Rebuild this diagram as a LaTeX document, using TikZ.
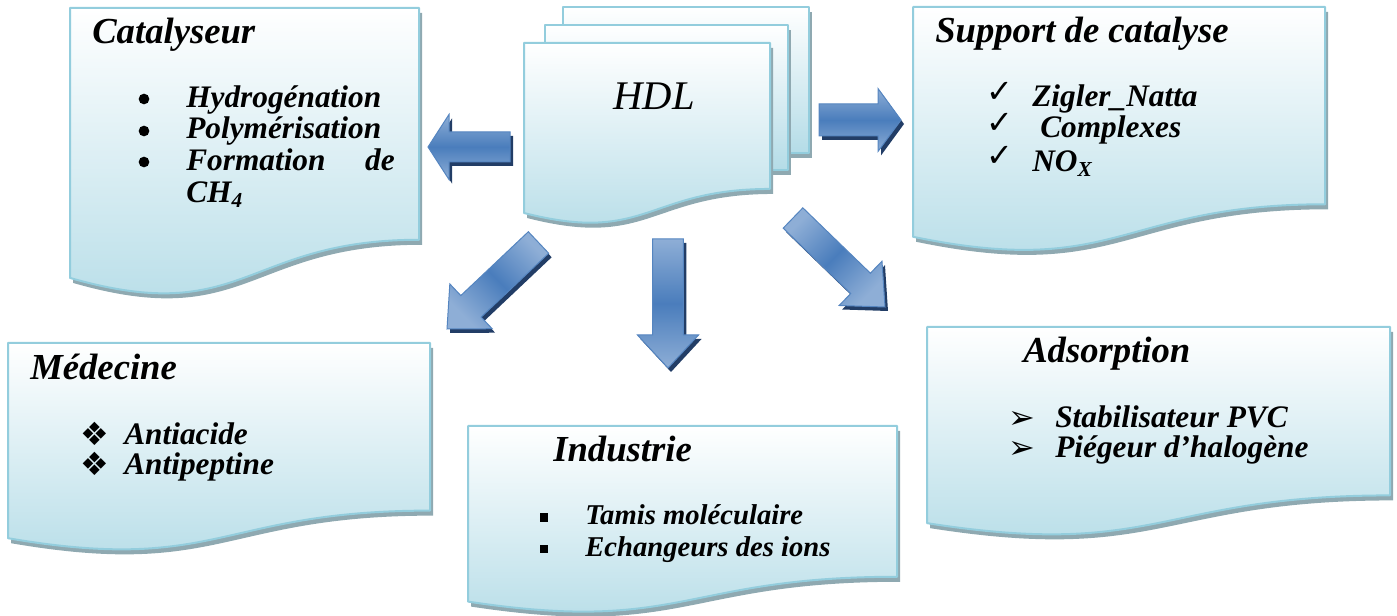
\documentclass[tikz,border=0pt]{standalone}
\usepackage{fontspec}
\setmainfont{Liberation Serif}
\newfontfamily\dejavu{DejaVu Sans}
\usetikzlibrary{calc}
\definecolor{boxbot}{HTML}{B4DCE7}
\definecolor{boxline}{HTML}{93CDDD}
\definecolor{boxshade}{HTML}{8FA9B1}
\definecolor{arrlight}{HTML}{8EAED6}
\definecolor{arrdark}{HTML}{4A7DBC}
\definecolor{arrline}{HTML}{5585C0}
\definecolor{arrshade}{HTML}{223D66}
\tikzset{
  boxbody/.style={top color=white, bottom color=boxbot, draw=boxline, line width=1.5pt, line join=round},
  boxshadow/.style={fill=boxshade},
  arrowbody/.style={top color=arrlight, bottom color=arrlight, middle color=arrdark, draw=arrline, line width=0.75pt},
  arrowshadow/.style={fill=arrshade},
  titletext/.style={anchor=base west, inner sep=0pt, font=\fontsize{27.5}{30}\selectfont\bfseries\itshape},
  itemtext/.style={anchor=base west, inner sep=0pt, font=\fontsize{23.5}{26}\selectfont\bfseries\itshape},
  smallitem/.style={anchor=base west, inner sep=0pt, font=\fontsize{21.5}{24}\selectfont\bfseries\itshape},
  dotbullet/.style={circle, fill=black, inner sep=0pt, minimum size=8pt},
  sqbullet/.style={rectangle, fill=black, inner sep=0pt, minimum size=6.5pt},
  glyphbullet/.style={anchor=base west, inner sep=0pt, text height=14pt, text depth=0pt},
}
\newcommand\docoutline[4]{(#1,#2) -- ({#1+#3},#2) -- ({#1+#3},{#2+0.802*#4}) .. controls ({#1+0.5*#3},{#2+0.802*#4}) and ({#1+0.5*#3},{#2+1.1075*#4}) .. (#1,{#2+0.934*#4}) -- cycle}
\newcommand\docbox[5]{%
  \begin{scope}[shift={(3,5)}]\fill[boxshadow] \docoutline{#2}{#3}{#4}{#5};\end{scope}
  \shadedraw[boxbody] \docoutline{#2}{#3}{#4}{#5};
  \coordinate (#1) at ({#2+0.5*#4},{#3+0.45*#5});
}
% tail, tip, shaft half, head half, head length, shading angle
\newcommand\blockarrow[6]{%
  \path ($(#2)!#5!(#1)$) coordinate (hb)
    ($(#1)!#3!90:(#2)$) coordinate (p1)
    ($(hb)!#3!90:(#2)$) coordinate (p2)
    ($(hb)!#4!90:(#2)$) coordinate (p3)
    ($(hb)!#4!-90:(#2)$) coordinate (p5)
    ($(hb)!#3!-90:(#2)$) coordinate (p6)
    ($(#1)!#3!-90:(#2)$) coordinate (p7);
  \fill[arrowshadow] ($(p1)+(3,4)$) -- ($(p2)+(3,4)$) -- ($(p3)+(3,4)$) -- ($(#2)+(3,4)$) -- ($(p5)+(3,4)$) -- ($(p6)+(3,4)$) -- ($(p7)+(3,4)$) -- cycle;
  \shadedraw[arrowbody, shading angle=#6] (p1) -- (p2) -- (p3) -- (#2) -- (p5) -- (p6) -- (p7) -- cycle;
}
\begin{document}
\begin{tikzpicture}[x=0.75pt, y=-0.75pt]
\useasboundingbox (0,0) rectangle (1397,616);

% HDL stack
\fill[boxshadow] (566,12) rectangle (812,158);
\shadedraw[boxbody] (563,7) rectangle (809,153);
\fill[boxshadow] (548,30) rectangle (791,175);
\shadedraw[boxbody] (545,25) rectangle (788,170);
\docbox{hdlbox}{524}{43}{246}{182}
\node[anchor=base, inner sep=0pt, font=\fontsize{30.5}{32}\selectfont\itshape] (hdl) at (654,110) {HDL};

% boxes
\docbox{catbox}{70}{8}{349}{289}
\docbox{supbox}{913}{7}{412}{246}
\docbox{medbox}{8}{343}{422}{209}
\docbox{indbox}{468}{426}{429}{188}
\docbox{adsbox}{927}{327}{463}{210}

% Catalyseur
\node[titletext] (tcat) at (92,44) {Catalyseur};
\node[dotbullet] (b1) at (144,99) {};
\node[dotbullet] (b2) at (144,131) {};
\node[dotbullet] (b3) at (144,162) {};
\node[itemtext] (c1) at (186,108) {Hydrogénation};
\node[itemtext] (c2) at (186,139) {Polymérisation};
\node[itemtext] (c3) at (186,171) {Formation};
\node[itemtext, anchor=base east] (c3b) at (395,171) {de};
\node[itemtext] (c4) at (186,203) {CH\raisebox{-3.5pt}{\fontsize{16}{16}\selectfont 4}};

% Support de catalyse
\node[titletext] (tsup) at (935,43) {Support de catalyse};
\node[glyphbullet, font=\dejavu\bfseries\fontsize{24}{24}\selectfont] (k1) at (986,103) {✓};
\node[glyphbullet, font=\dejavu\bfseries\fontsize{24}{24}\selectfont] (k2) at (986,134) {✓};
\node[glyphbullet, font=\dejavu\bfseries\fontsize{24}{24}\selectfont] (k3) at (986,167) {✓};
\node[itemtext] (s1) at (1032,107) {Zigler\_Natta};
\node[itemtext] (s2) at (1040,138) {Complexes};
\node[itemtext] (s3) at (1032,172) {NO\raisebox{-3.5pt}{\fontsize{16}{16}\selectfont X}};

% Medecine
\node[glyphbullet, font=\dejavu\fontsize{24}{24}\selectfont] (m1b) at (80,446) {❖};
\node[glyphbullet, font=\dejavu\fontsize{24}{24}\selectfont] (m2b) at (80,476) {❖};
\node[titletext] (tmed) at (30,380) {Médecine};
\node[itemtext] (m1) at (124,445) {Antiacide};
\node[itemtext] (m2) at (124,475) {Antipeptine};

% Industrie
\node[titletext] (tind) at (553,462) {Industrie};
\node[sqbullet] (i1b) at (544,517.5) {};
\node[sqbullet] (i2b) at (544,549) {};
\node[smallitem] (i1) at (585,525) {Tamis moléculaire};
\node[smallitem] (i2) at (585,557) {Echangeurs des ions};

% Adsorption
\node[titletext] (tads) at (1023,363) {Adsorption};
\node[glyphbullet, font=\dejavu\fontsize{24}{24}\selectfont] (a1b) at (1008,429) {➢};
\node[glyphbullet, font=\dejavu\fontsize{24}{24}\selectfont] (a2b) at (1008,459) {➢};
\node[itemtext] (a1) at (1055,428) {Stabilisateur PVC};
\node[itemtext] (a2) at (1055,458) {Piégeur d’halogène};

% arrows
\coordinate (lt) at (510,147); \coordinate (lh) at (428,147);
\coordinate (rt) at (819,120); \coordinate (rh) at (901,120);
\coordinate (dt) at (668,239); \coordinate (dh) at (668,368);
\coordinate (dlt) at (538.5,242.5); \coordinate (dlh) at (447,329);
\coordinate (drt) at (793,218); \coordinate (drh) at (885,307);
\blockarrow{lt}{lh}{11.25pt}{24.4pt}{15.75pt}{0}
\blockarrow{rt}{rh}{12pt}{23.6pt}{17.25pt}{0}
\blockarrow{dt}{dh}{11.6pt}{22.9pt}{24.75pt}{0}
\blockarrow{dlt}{dlh}{11.1pt}{23.1pt}{24.75pt}{-45}
\blockarrow{drt}{drh}{10.6pt}{23.1pt}{25.5pt}{45}
\end{tikzpicture}
\end{document}
